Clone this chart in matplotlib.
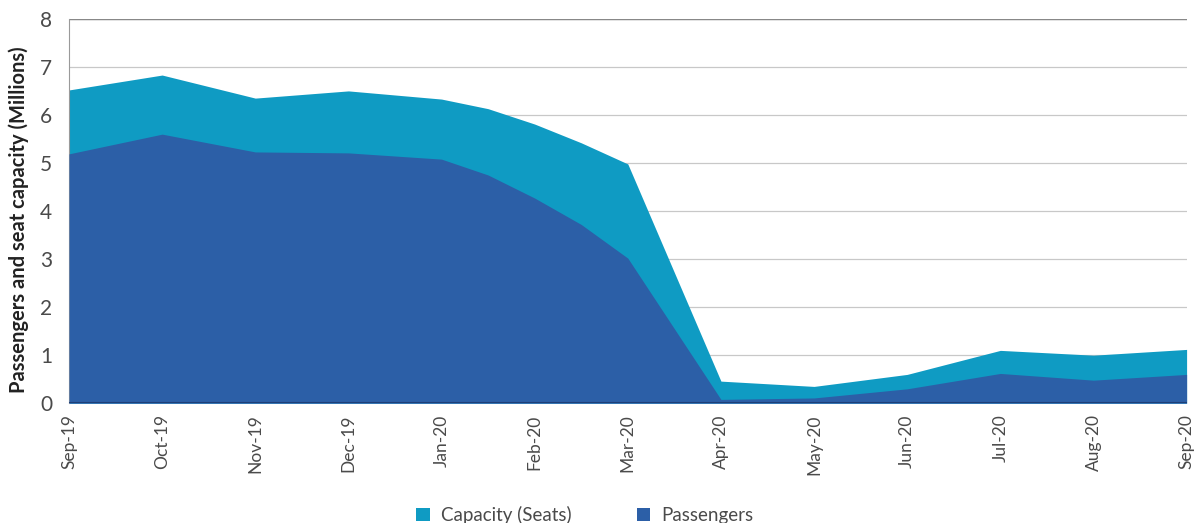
import matplotlib
matplotlib.use("Agg")
import matplotlib.pyplot as plt
from matplotlib.patches import Patch

# Month index (0 = Sep-19); a few mid-month readings where the curve bends
x_pos = [0, 1, 2, 3, 4, 4.5, 5, 5.5, 6, 7, 8, 9, 10, 11, 12]
capacity = [6.52, 6.83, 6.35, 6.50, 6.33, 6.13, 5.81, 5.42, 4.98, 0.46, 0.35, 0.60, 1.10, 1.00, 1.12]
passengers = [5.19, 5.60, 5.23, 5.21, 5.08, 4.75, 4.27, 3.72, 3.02, 0.08, 0.11, 0.30, 0.62, 0.48, 0.60]

month_labels = ["Sep-19", "Oct-19", "Nov-19", "Dec-19", "Jan-20", "Feb-20", "Mar-20",
                "Apr-20", "May-20", "Jun-20", "Jul-20", "Aug-20", "Sep-20"]

cap_color = "#0f9bc3"
pax_color = "#2c5fa7"
text_color = "#4a4a4a"

plt.rcParams["font.family"] = ["Lato", "DejaVu Sans"]

fig = plt.figure(figsize=(11.94, 5.23), dpi=100)
ax = fig.add_axes([0.0578, 0.229, 0.936, 0.735])

ax.fill_between(x_pos, 0, capacity, color=cap_color, linewidth=0, zorder=2)
ax.fill_between(x_pos, 0, passengers, color=pax_color, linewidth=0, zorder=3)
ax.plot([0, 12], [0, 0], color="#1f3f78", linewidth=1.5, zorder=4)

ax.set_xlim(0, 12)
ax.set_ylim(0, 8)
ax.set_yticks(range(0, 9))
ax.set_xticks(range(len(month_labels)))
ax.set_xticklabels(month_labels, rotation=90, fontsize=12.5, color=text_color)
ax.tick_params(axis="y", labelsize=15, colors=text_color, length=0, pad=12)
ax.tick_params(axis="x", length=0, pad=8)

ax.grid(axis="y", color="#c8c8c8", linewidth=0.9, zorder=1)
ax.set_axisbelow(True)
for side in ["top", "right", "bottom"]:
    ax.spines[side].set_visible(False)
ax.spines["left"].set_color("#9a9a9a")
ax.spines["left"].set_linewidth(0.8)
ax.axhline(8, color="#888888", linewidth=1.0, zorder=1)

ax.set_ylabel("Passengers and seat capacity (Millions)", fontsize=14.5,
              fontweight="bold", color="#222222")
ax.yaxis.set_label_coords(-0.041, 0.5, transform=None)
ax.yaxis.label.set_transform(fig.transFigure)
ax.yaxis.label.set_position((0.0155, 0.58))
ax.yaxis.label.set_verticalalignment("center")

handles = [Patch(facecolor=cap_color, label="Capacity (Seats)"),
           Patch(facecolor=pax_color, label="Passengers")]
fig.legend(handles=handles, loc="lower center", bbox_to_anchor=(0.49, -0.035),
           ncol=2, frameon=False, fontsize=13.5, handlelength=0.7, handleheight=0.7,
           columnspacing=3.5, handletextpad=0.6, labelcolor=text_color)

fig.savefig("out.png", dpi=100)
